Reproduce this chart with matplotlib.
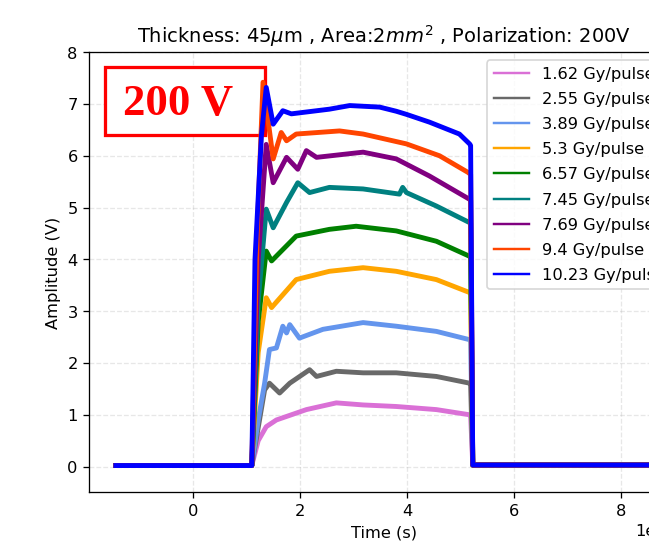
import numpy as np
import matplotlib.pyplot as plt
from matplotlib.patches import Rectangle

# time in microseconds, amplitude in V
t_162 = [-1.44, 1.10, 1.22, 1.37, 1.56, 2.12, 2.68, 3.18, 3.80, 4.55, 5.17, 5.19, 5.23, 8.60]
v_162 = [0.02, 0.02, 0.50, 0.77, 0.90, 1.10, 1.23, 1.19, 1.16, 1.10, 1.00, 0.99, 0.03, 0.03]

t_255 = [-1.44, 1.10, 1.22, 1.34, 1.43, 1.62, 1.81, 2.18, 2.31, 2.68, 3.18, 3.80, 4.55, 5.17, 5.19, 5.23, 8.60]
v_255 = [0.02, 0.02, 0.75, 1.48, 1.61, 1.42, 1.61, 1.87, 1.74, 1.84, 1.81, 1.81, 1.74, 1.61, 1.59, 0.03, 0.03]

t_389 = [-1.44, 1.10, 1.22, 1.34, 1.43, 1.56, 1.68, 1.75, 1.81, 1.99, 2.43, 3.18, 3.80, 4.55, 5.17, 5.19, 5.23, 8.60]
v_389 = [0.02, 0.02, 0.90, 1.61, 2.26, 2.29, 2.71, 2.58, 2.74, 2.48, 2.65, 2.78, 2.71, 2.61, 2.45, 2.43, 0.03, 0.03]

t_530 = [-1.44, 1.10, 1.22, 1.37, 1.47, 1.93, 2.55, 3.18, 3.80, 4.55, 5.17, 5.19, 5.23, 8.60]
v_530 = [0.02, 0.02, 2.20, 3.26, 3.07, 3.61, 3.77, 3.84, 3.77, 3.61, 3.36, 3.34, 0.03, 0.03]

t_657 = [-1.44, 1.10, 1.22, 1.37, 1.47, 1.93, 2.55, 3.05, 3.80, 4.55, 5.17, 5.19, 5.23, 8.60]
v_657 = [0.02, 0.02, 2.80, 4.16, 3.97, 4.45, 4.58, 4.64, 4.55, 4.35, 4.06, 4.04, 0.03, 0.03]

t_745 = [-1.44, 1.10, 1.22, 1.37, 1.50, 1.75, 1.96, 2.18, 2.55, 3.18, 3.86, 3.92, 3.99, 4.55, 5.17, 5.19, 5.23, 8.60]
v_745 = [0.02, 0.02, 3.20, 4.97, 4.61, 5.10, 5.48, 5.29, 5.39, 5.36, 5.26, 5.39, 5.29, 5.03, 4.71, 4.69, 0.03, 0.03]

t_769 = [-1.44, 1.10, 1.22, 1.37, 1.50, 1.75, 1.96, 2.12, 2.31, 3.18, 3.80, 4.42, 5.17, 5.19, 5.23, 8.60]
v_769 = [0.02, 0.02, 4.00, 6.22, 5.48, 5.97, 5.74, 6.10, 5.97, 6.07, 5.94, 5.61, 5.16, 5.14, 0.03, 0.03]

t_940 = [-1.44, 1.10, 1.20, 1.31, 1.50, 1.65, 1.75, 1.93, 2.74, 3.18, 3.99, 4.61, 5.14, 5.19, 5.23, 8.60]
v_940 = [0.02, 0.02, 4.50, 7.42, 5.94, 6.45, 6.29, 6.42, 6.48, 6.42, 6.23, 6.00, 5.68, 5.64, 0.03, 0.03]

t_1023 = [-1.44, 1.10, 1.16, 1.28, 1.37, 1.50, 1.68, 1.84, 2.55, 2.93, 3.49, 3.80, 3.99, 4.42, 4.98, 5.17, 5.19, 5.23, 8.60]
v_1023 = [0.02, 0.02, 4.00, 6.39, 7.32, 6.61, 6.87, 6.81, 6.90, 6.97, 6.94, 6.86, 6.80, 6.65, 6.42, 6.23, 6.20, 0.03, 0.03]

labels = ['1.62 Gy/pulse', '2.55 Gy/pulse', '3.89 Gy/pulse', '5.3 Gy/pulse', '6.57 Gy/pulse',
          '7.45 Gy/pulse', '7.69 Gy/pulse', '9.4 Gy/pulse', '10.23 Gy/pulse']
colors = ['orchid', 'dimgray', 'cornflowerblue', 'orange', 'green',
          'teal', 'purple', 'orangered', 'blue']
traces = [(t_162, v_162), (t_255, v_255), (t_389, v_389), (t_530, v_530), (t_657, v_657),
          (t_745, v_745), (t_769, v_769), (t_940, v_940), (t_1023, v_1023)]

fig = plt.figure(figsize=(5.55, 4.695), dpi=117)
ax = fig.add_axes([0.1371, 0.1029, 0.91, 0.8015])

for (t, v), lab, c in zip(traces, labels, colors):
    ax.plot(np.array(t) * 1e-6, v, color=c, linewidth=3, label=lab)

ax.set_ylim(-0.5, 8)
ax.grid(True, linestyle='--', alpha=0.3)
ax.set_xlabel('Time (s)')
ax.set_ylabel('Amplitude (V)')
ax.set_title(r'Thickness: 45$\mu$m , Area:2$mm^2$ , Polarization: 200V')

leg = ax.legend(loc='upper right', labelspacing=0.62, handlelength=2.2)
for line in leg.get_lines():
    line.set_linewidth(1.5)

ax.add_patch(Rectangle((0.027, 0.8125), 0.27, 0.1545, transform=ax.transAxes,
                       facecolor='white', edgecolor='red', linewidth=2, zorder=1.8))
ax.text(0.151, 0.884, '200 V', transform=ax.transAxes, ha='center', va='center',
        color='red', fontsize=27.5, fontweight='bold', family='Liberation Serif')

fig.savefig('out.png', dpi=117)
